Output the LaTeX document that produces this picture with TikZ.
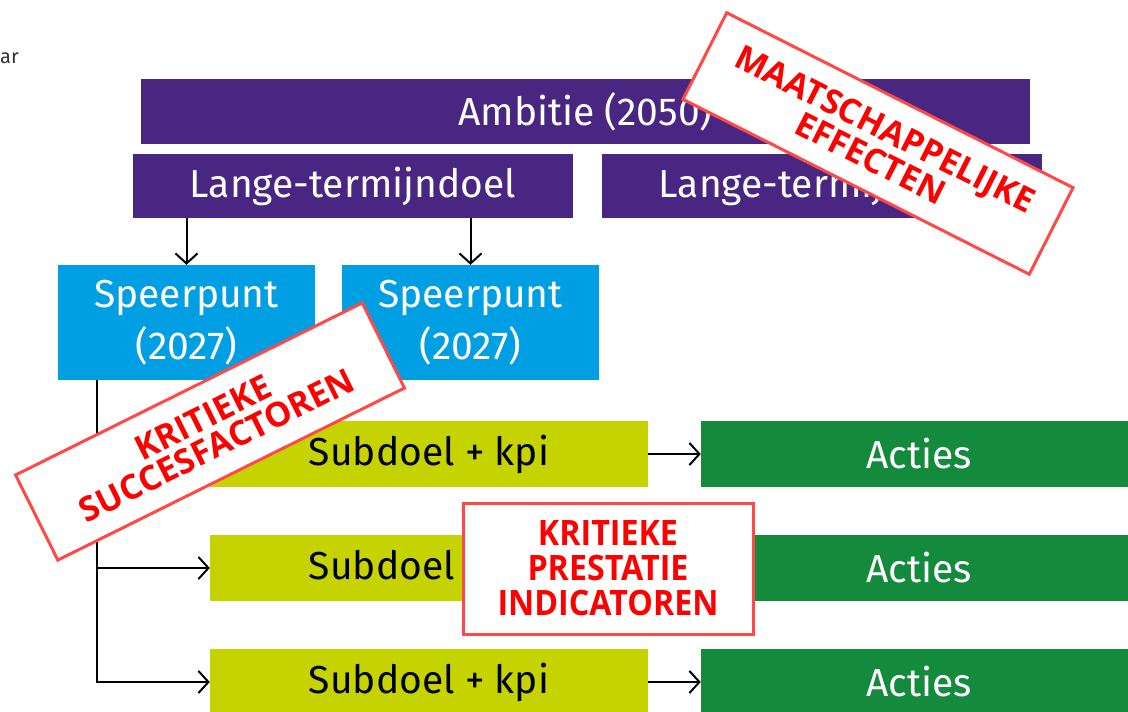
\documentclass[tikz,border=0pt]{standalone}
\usepackage{fontspec}
\setmainfont{Fira Sans}
\newfontfamily\stampfont{Open Sans}
\newfontfamily\stampnarrow{Open Sans}[FakeStretch=0.92]
\usetikzlibrary{arrows.meta}
\definecolor{purp}{HTML}{4A2683}
\definecolor{sblue}{HTML}{009FE3}
\definecolor{lime}{HTML}{C5D300}
\definecolor{dgreen}{HTML}{138A3C}
\definecolor{stampred}{HTML}{FF0000}
\definecolor{stampedge}{HTML}{FF4848}
\tikzset{
  box/.style={rectangle, inner sep=0pt, text=white, font=\fontsize{39}{52}\selectfont, align=center},
  purplebox/.style={box, fill=purp, minimum height=64pt},
  bluebox/.style={box, fill=sblue, minimum width=257pt, minimum height=115pt},
  subbox/.style={box, fill=lime, text=black, minimum width=438pt, minimum height=66pt},
  actbox/.style={box, fill=dgreen, minimum width=436pt, minimum height=66pt},
  conn/.style={line width=2pt, -{Straight Barb[length=10pt,width=22pt,line width=2pt]}},
  stampbox/.style={rectangle, draw=stampedge, line width=3pt, fill=white, text=stampred, inner sep=0pt,
     align=center, font=\stampfont\bfseries\fontsize{34}{31}\selectfont}
}
\begin{document}
\begin{tikzpicture}[x=1pt,y=-1pt]
\clip (0,0) rectangle (1128,712);
\fill[white] (0,0) rectangle (1128,712);
\node[anchor=east, text=black!80, font=\fontsize{20}{20}\selectfont, inner sep=0pt] (ar) at (19,58) {ar};
% top level
\node[purplebox, minimum width=889pt, minimum height=65pt] (amb) at (585.5,111.5) {Ambitie (2050)};
\node[purplebox, minimum width=440pt] (lt1) at (353,186) {Lange-termijndoel};
\node[purplebox, minimum width=440pt] (lt2) at (822,186) {Lange-termijndoel};
% speerpunten
\node[bluebox] (sp1) at (186.5,322.5) {Speerpunt\\(2027)};
\node[bluebox] (sp2) at (470.5,322.5) {Speerpunt\\(2027)};
% subdoelen
\node[subbox] (sd1) at (429,454) {Subdoel + kpi};
\node[subbox] (sd2) at (429,568) {Subdoel + kpi};
\node[subbox] (sd3) at (429,682) {Subdoel + kpi};
\node[actbox] (ac1) at (919,454) {Acties};
\node[actbox] (ac2) at (919,568) {Acties};
\node[actbox] (ac3) at (919,682) {Acties};
% connectors
\draw[conn] (sp1.north |- lt1.south) -- (sp1.north);
\draw[conn] (sp2.north |- lt1.south) -- (sp2.north);
\coordinate (trunk) at ([xshift=39pt]sp1.south west);
\draw[conn] (trunk) |- (sd1.west);
\draw[conn] (trunk) |- (sd2.west);
\draw[conn] (trunk) |- (sd3.west);
\draw[conn] (sd1.east) -- (ac1.west);
\draw[conn] (sd2.east) -- (ac2.west);
\draw[conn] (sd3.east) -- (ac3.west);
% stamps
\node[stampbox, minimum width=388pt, minimum height=97pt, rotate=-26.8] (st1) at (878,143.5) {MAATSCHAPPELIJKE\\EFFECTEN};
\node[stampbox, minimum width=387pt, minimum height=95pt, rotate=26.4] (st2) at (210,431.5) {KRITIEKE\\SUCCESFACTOREN};
\node[stampbox, minimum width=290pt, minimum height=131pt, font=\stampnarrow\bfseries\fontsize{35}{35}\selectfont] (st3) at (608,568.5) {KRITIEKE\\PRESTATIE\\INDICATOREN};
\end{tikzpicture}
\end{document}
